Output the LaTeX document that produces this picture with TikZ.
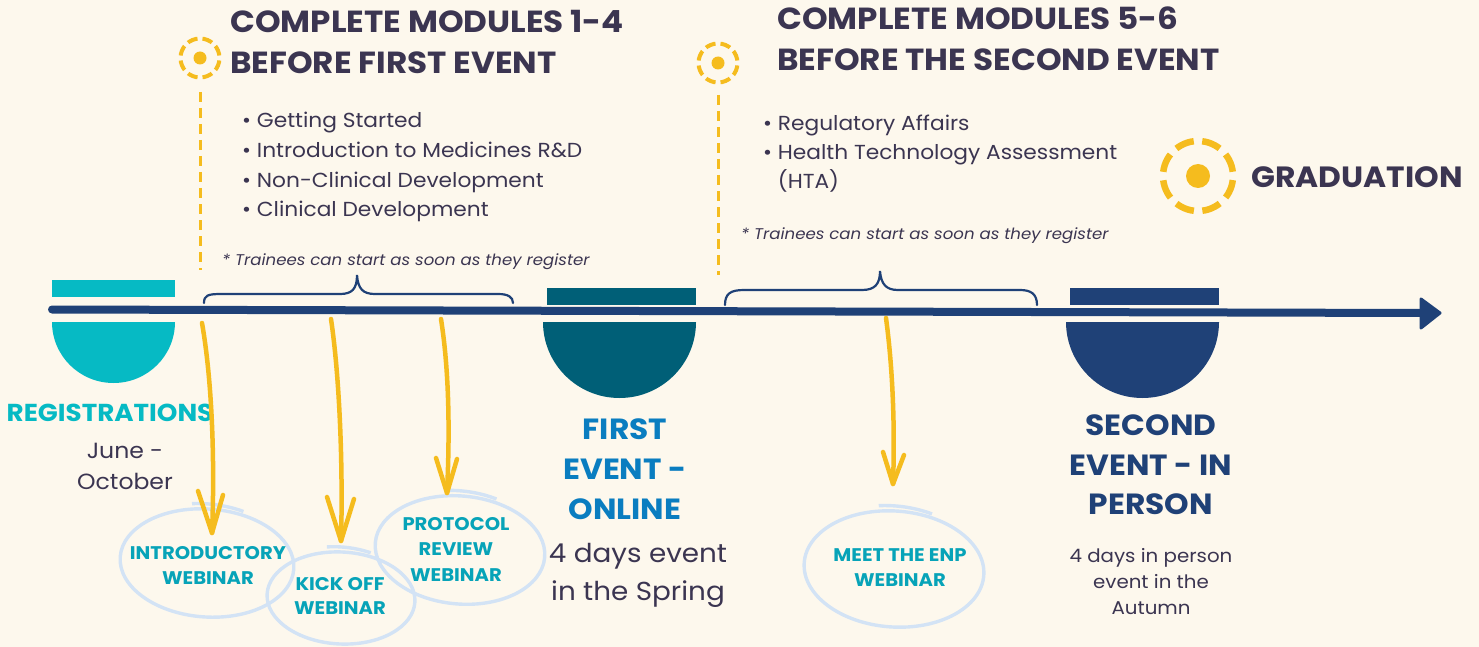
\documentclass[tikz,border=0pt]{standalone}
\usepackage{fontspec}
\setmainfont{Poppins}[FakeStretch=1.07]
\usetikzlibrary{calc}
\definecolor{bg}{RGB}{253,248,237}
\definecolor{ink}{RGB}{59,53,81}
\definecolor{sun}{RGB}{245,188,30}
\definecolor{navy}{RGB}{31,65,119}
\definecolor{regteal}{RGB}{6,186,196}
\definecolor{evteal}{RGB}{0,95,119}
\definecolor{evblue}{RGB}{10,125,192}
\definecolor{webteal}{RGB}{7,163,184}
\definecolor{ringblue}{RGB}{211,227,245}
\newcommand\SketchEll[4]{%
  \draw[ringline, rotate around={#4:(#1)}] (#1) ellipse[x radius=#2, y radius=#3];
  \draw[ringline, rotate around={#4:(#1)}] ([shift={(-4,-5)}]#1) ++(65:#2 and #3) arc[start angle=65, end angle=100, x radius=#2, y radius=#3];
}
\tikzset{
  ringline/.style={ringblue, line width=3.4pt},
  head/.style={font=\fontsize{30.5}{31}\selectfont\bfseries, text=ink, anchor=base west, inner sep=0pt},
  bul/.style={font=\fontsize{20.3}{21}\selectfont, text=ink, anchor=base west, inner sep=0pt},
  note/.style={font=\fontsize{15.5}{16}\selectfont\itshape, text=ink, anchor=base west, inner sep=0pt},
  web/.style={font=\fontsize{18.3}{19}\selectfont\bfseries, text=webteal, anchor=base, inner sep=0pt},
  evt/.style={font=\fontsize{29.2}{30}\selectfont\bfseries, anchor=base, inner sep=0pt},
  sub/.style={font=\fontsize{22}{23}\selectfont, text=ink, anchor=base, inner sep=0pt},
  yarrow/.style={sun, line width=4.5pt, line cap=round, line join=round},
  ydash/.style={sun, line width=3pt, dash pattern=on 10pt off 6pt},
  brace/.style={navy, line width=2.2pt, line cap=round},
}
\begin{document}
\begin{tikzpicture}[x=1pt, y=-1pt]
\fill[bg] (0,0) rectangle (1479,647);
\useasboundingbox (0,0) rectangle (1479,647);

% headings
\node[head] (h1a) at (230,33) {COMPLETE MODULES 1-4};
\node[head] (h1b) at (230,74) {BEFORE FIRST EVENT};
\node[head] (h2a) at (777,30) {COMPLETE MODULES 5-6};
\node[head] (h2b) at (777,71) {BEFORE THE SECOND EVENT};

% icons
\coordinate (i1) at (200,58);
\coordinate (i2) at (718,63);
\coordinate (i3) at (1198,176);
\draw[sun, line width=4pt, dash pattern=on 10.3pt off 5pt, dash phase=12.8pt] (i1) circle[radius=19.5pt];
\fill[sun] (i1) circle[radius=6.5pt];
\draw[sun, line width=4pt, dash pattern=on 10.3pt off 5pt, dash phase=12.8pt] (i2) circle[radius=19.5pt];
\fill[sun] (i2) circle[radius=6.5pt];
\draw[sun, line width=6.5pt, dash pattern=on 19pt off 8.5pt, dash phase=23.25pt] (i3) circle[radius=35pt];
\fill[sun] (i3) circle[radius=12pt];
\node[font=\fontsize{29.3}{30}\selectfont\bfseries, text=ink, anchor=base west, inner sep=0pt] (grad) at (1251,187) {GRADUATION};

\coordinate (d1a) at (200,92);
\coordinate (d1b) at (200,270);
\coordinate (d2a) at (718,95);
\coordinate (d2b) at (718,275);
\draw[ydash] (d1a) -- (d1b);
\draw[ydash] (d2a) -- (d2b);

% bullets
\node[bul] (b1) at (242,128) {• Getting Started};
\node[bul] (b2) at (242,157.5) {• Introduction to Medicines R\&D};
\node[bul] (b3) at (242,187) {• Non-Clinical Development};
\node[bul] (b4) at (242,216.5) {• Clinical Development};
\node[bul] (c1) at (763,131) {• Regulatory Affairs};
\node[bul] (c2) at (763,160) {• Health Technology Assessment};
\node[bul] (c3) at (763,189) {\phantom{• }(HTA)};

\node[note] (n1) at (222,265) {* Trainees can start as soon as they register};
\node[note] (n2) at (741,239) {* Trainees can start as soon as they register};

% braces
\coordinate (br1l) at (204,303);
\coordinate (br1m) at (357,275);
\coordinate (br1r) at (513,303);
\draw[brace] (br1l) .. controls (204,295) and (208,294) .. (222,294) -- (340,294)
  .. controls (352,294) and (357,289) .. (br1m)
  .. controls (358,289) and (363,294) .. (375,294) -- (498,294)
  .. controls (508,294) and (513,297) .. (br1r);
\coordinate (br2l) at (725,305);
\coordinate (br2m) at (880,271);
\coordinate (br2r) at (1037,305);
\draw[brace] (br2l) .. controls (725,294) and (730,290) .. (744,290) -- (862,290)
  .. controls (875,290) and (880,284) .. (br2m)
  .. controls (881,284) and (886,290) .. (898,290) -- (1020,290)
  .. controls (1031,290) and (1037,294) .. (br2r);

% event shapes
\fill[regteal] (52,280) rectangle (175,297);
\fill[regteal] (52,322) arc[start angle=180, end angle=360, x radius=61.5pt, y radius=61pt] -- cycle;
\fill[evteal] (547,288) rectangle (696,305);
\fill[evteal] (543,322) arc[start angle=180, end angle=360, x radius=76.5pt, y radius=76pt] -- cycle;
\fill[navy] (1070,288) rectangle (1219,305);
\fill[navy] (1066,322) arc[start angle=180, end angle=360, x radius=76.5pt, y radius=76pt] -- cycle;

% timeline
\coordinate (t0) at (52,309.5);
\coordinate (t1) at (1424,313);
\draw[navy, line width=8pt, line cap=round] (t0) -- (t1);
\filldraw[navy, line width=3pt, line join=round] (1421,299) -- (1440,313) -- (1421,328) -- cycle;

% event labels
\node[evt, text=regteal, font=\fontsize{24.5}{25}\selectfont\bfseries] (reg) at (110,421) {REGISTRATIONS};
\node[sub] (reg1) at (125,458) {June -};
\node[sub] (reg2) at (125,489) {October};
\node[evt, text=evblue] (fe1) at (625,439) {FIRST};
\node[evt, text=evblue] (fe2) at (625,479) {EVENT -};
\node[evt, text=evblue] (fe3) at (625,519) {ONLINE};
\node[sub, font=\fontsize{26}{27}\selectfont] (fs1) at (638,562) {4 days event};
\node[sub, font=\fontsize{26}{27}\selectfont] (fs2) at (638,600) {in the Spring};
\node[evt, text=navy] (se1) at (1151,435) {SECOND};
\node[evt, text=navy] (se2) at (1151,475) {EVENT - IN};
\node[evt, text=navy] (se3) at (1151,514) {PERSON};
\node[sub, font=\fontsize{18.5}{19}\selectfont] (ss1) at (1151,562) {4 days in person};
\node[sub, font=\fontsize{18.5}{19}\selectfont] (ss2) at (1151,588) {event in the};
\node[sub, font=\fontsize{18.5}{19}\selectfont] (ss3) at (1151,614) {Autumn};

% webinar ellipses
\coordinate (e1) at (207,563);
\coordinate (e2) at (341,598);
\coordinate (e3) at (460,550);
\coordinate (e4) at (894,569);
\SketchEll{e1}{87pt}{54pt}{-4}
\SketchEll{e2}{74pt}{46pt}{-3}
\SketchEll{e3}{85pt}{54pt}{-5}
\SketchEll{e4}{90pt}{58pt}{-4}

\node[web] (w1a) at (208,559) {INTRODUCTORY};
\node[web] (w1b) at (208,584) {WEBINAR};
\node[web] (w2a) at (340,590) {KICK OFF};
\node[web] (w2b) at (340,614) {WEBINAR};
\node[web] (w3a) at (456,530) {PROTOCOL};
\node[web] (w3b) at (456,555) {REVIEW};
\node[web] (w3c) at (456,581) {WEBINAR};
\node[web] (w4a) at (900,561) {MEET THE ENP};
\node[web] (w4b) at (900,586) {WEBINAR};

% yellow arrows
\coordinate (a1s) at (202,323);
\coordinate (a1e) at (212,533);
\coordinate (a2s) at (331,319);
\coordinate (a2e) at (341,541);
\coordinate (a3s) at (441,319);
\coordinate (a3e) at (447,493);
\coordinate (a4s) at (886,318);
\coordinate (a4e) at (893,484);
\draw[yarrow] (a1s) .. controls (212,380) and (215,460) .. (a1e);
\draw[yarrow] ($(a1e)+(-14,-42)$) -- (a1e) -- ($(a1e)+(11,-38)$);
\draw[yarrow] (a2s) .. controls (340,380) and (343,470) .. (a2e);
\draw[yarrow] ($(a2e)+(-14,-44)$) -- (a2e) -- ($(a2e)+(13,-42)$);
\draw[yarrow] (a3s) .. controls (449,370) and (450,430) .. (a3e);
\draw[yarrow] ($(a3e)+(-11,-35)$) -- (a3e) -- ($(a3e)+(10,-34)$);
\draw[yarrow] (a4s) .. controls (893,370) and (895,430) .. (a4e);
\draw[yarrow] ($(a4e)+(-10,-32)$) -- (a4e) -- ($(a4e)+(11,-29)$);
\end{tikzpicture}
\end{document}
